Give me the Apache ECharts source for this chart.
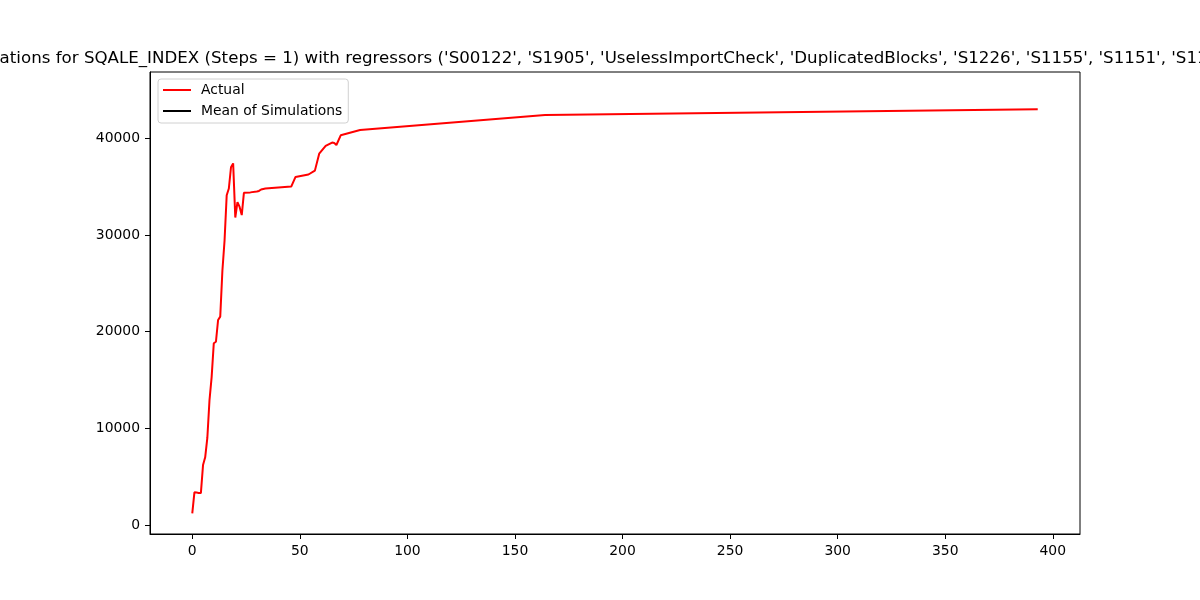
<!DOCTYPE html>
<html>
<head>
<meta charset="utf-8">
<script src="https://cdn.jsdelivr.net/npm/echarts@6/dist/echarts.min.js"></script>
<style>html,body{margin:0;padding:0;background:#fff;}#c{width:1200px;height:600px;}</style>
</head>
<body>
<div id="c"></div>
<script>
const titleText = "Simulations for SQALE_INDEX (Steps = 1) with regressors ('S00122', 'S1905', 'UselessImportCheck', 'DuplicatedBlocks', 'S1226', 'S1155', 'S1151', 'S1192')";
const steps = [0,1,2,3,4,5,6,7,8,9,10,11,12,13,14,15,16,17,18,19,20,21,22,23,24,27,30,31,32,34,46,48,54,57,59,62,65,66,67,69,78,164,393];
const actual = [1210,3380,3350,3320,3300,6200,7000,9000,12900,15300,18800,18950,21200,21550,26300,29400,34100,34800,37000,37400,31800,33400,32900,32050,34350,34400,34500,34550,34700,34800,35000,36000,36250,36650,38400,39200,39550,39500,39300,40300,40850,42400,43000];
const meanSim = [];
const xTicks = [0,50,100,150,200,250,300,350,400];
const yTicks = [0,10000,20000,30000,40000];

const font = 'DejaVu Sans';
const chart = echarts.init(document.getElementById('c'), null, {renderer:'canvas'});
chart.setOption({
  animation:false,
  backgroundColor:'#fff',
  graphic:[{type:'text', x:-47, y:59, style:{text:titleText, fontFamily:font, fontSize:16.67, fill:'#000', textVerticalAlign:'middle', textAlign:'left'}}],
  grid:{left:150, right:120, top:72, bottom:66, show:true, borderColor:'#000', borderWidth:1, backgroundColor:'transparent'},
  legend:{
    orient:'vertical', left:158, top:79,
    backgroundColor:'rgba(255,255,255,0.8)', borderColor:'#d0d0d0', borderWidth:1, borderRadius:3,
    padding:[4,6,5,5], itemGap:7, itemWidth:28, itemHeight:2,
    textStyle:{fontFamily:font, fontSize:13.9, color:'#000', padding:[0,0,0,5]},
    data:[{name:'Actual', icon:'rect'},{name:'Mean of Simulations', icon:'rect'}]
  },
  xAxis:{
    type:'value', min:-19.65, max:412.65,
    axisLine:{show:true, onZero:false, lineStyle:{color:'#000', width:1}},
    axisTick:{show:true, length:5, lineStyle:{color:'#000'}, customValues:xTicks},
    axisLabel:{fontFamily:font, fontSize:13.9, color:'#000', margin:10, customValues:xTicks, formatter:v=>String(v)},
    splitLine:{show:false}
  },
  yAxis:{
    type:'value', min:-930, max:46850,
    axisLine:{show:true, onZero:false, lineStyle:{color:'#000', width:1}},
    axisTick:{show:true, length:5, lineStyle:{color:'#000'}, customValues:yTicks},
    axisLabel:{fontFamily:font, fontSize:13.9, color:'#000', margin:10, customValues:yTicks, formatter:v=>String(v)},
    splitLine:{show:false}
  },
  series:[
    {name:'Actual', type:'line', data:steps.map((s,i)=>[s, actual[i]]), showSymbol:false, symbol:'none',
     lineStyle:{color:'#ff0000', width:2}, itemStyle:{color:'#ff0000'}},
    {name:'Mean of Simulations', type:'line', data:meanSim, showSymbol:false, symbol:'none',
     lineStyle:{color:'#000', width:2.5}, itemStyle:{color:'#000'}}
  ]
});
</script>
</body>
</html>
